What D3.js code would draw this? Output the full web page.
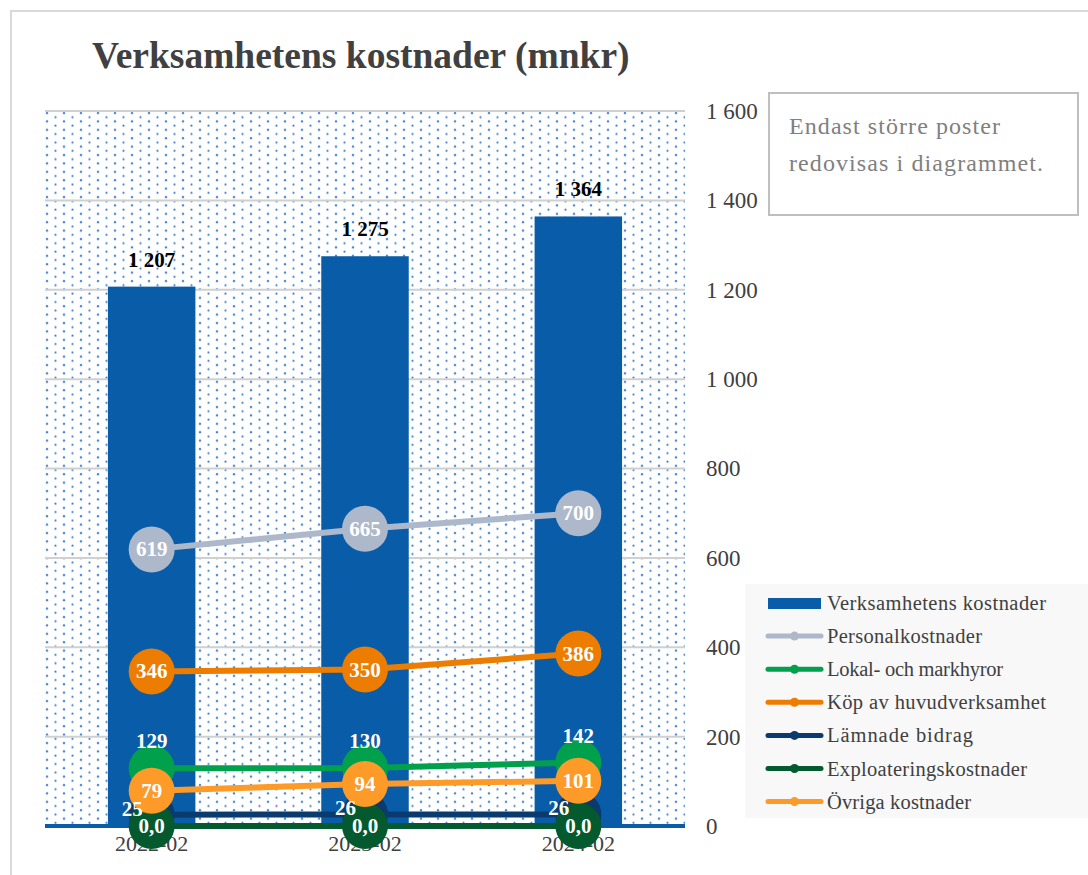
<!DOCTYPE html>
<html>
<head>
<meta charset="utf-8">
<script src="https://cdn.jsdelivr.net/npm/d3@7"></script>
<style>
body { margin: 0; background: #fff; }
svg { display: block; font-family: "Liberation Serif", "Times New Roman", serif; }
</style>
</head>
<body>
<div id="chart"></div>
<script>
// data
var categories = ["2022-02", "2023-02", "2024-02"];
var totalCosts = [1207, 1275, 1364];
var personal = [619, 665, 700];
var lokal = [129, 130, 142];
var kop = [346, 350, 386];
var bidrag = [25, 26, 26];
var exploatering = [0, 0, 0];
var ovriga = [79, 94, 101];
var yTicks = [0, 200, 400, 600, 800, 1000, 1200, 1400, 1600];

var lineSeries = [
	{name: "Personalkostnader", values: personal, colour: "#adb9ca", label: "center"},
	{name: "Lokal- och markhyror", values: lokal, colour: "#00a04c", label: "above"},
	{name: "Köp av huvudverksamhet", values: kop, colour: "#ed7d00", label: "center"},
	{name: "Lämnade bidrag", values: bidrag, colour: "#0b3a6e", label: "left"},
	{name: "Exploateringskostnader", values: exploatering, colour: "#045a2e", label: "center", fmt: "0,0"},
	{name: "Övriga kostnader", values: ovriga, colour: "#fd9a28", label: "center"}
];

var BAR_COLOUR = "#095ca8";
var fmt = function(v) { return d3.format(",")(v).replace(/,/g, " "); };

var svg = d3.select("#chart").append("svg")
	.attr("width", 1088)
	.attr("height", 875);

// outer frame
svg.append("rect")
	.attr("x", 11).attr("y", 11)
	.attr("width", 1100).attr("height", 900)
	.attr("fill", "#fff")
	.attr("stroke", "#d9d9d9")
	.attr("stroke-width", 2);

svg.append("text")
	.attr("x", 92).attr("y", 68)
	.attr("font-size", 37.5)
	.attr("font-weight", "bold")
	.attr("fill", "#404040")
	.text("Verksamhetens kostnader (mnkr)");

var plotLeft = 45, plotRight = 685, plotTop = 111, plotBottom = 826;

var x = d3.scaleBand()
	.domain(categories)
	.range([plotLeft, plotRight])
	.paddingInner(0.59)
	.paddingOuter(0.295);

var y = d3.scaleLinear()
	.domain([0, 1600])
	.range([plotBottom, plotTop]);

// dotted plot background (staggered dots)
var defs = svg.append("defs");
var pat = defs.append("pattern")
	.attr("id", "dots")
	.attr("patternUnits", "userSpaceOnUse")
	.attr("width", 17).attr("height", 8.4)
	.attr("x", plotLeft).attr("y", plotTop);
[[2, 2], [10.5, 6.2]].forEach(function(p, i) {
	pat.append("circle").attr("cx", p[0]).attr("cy", p[1]).attr("r", 1.6).attr("fill", "#cfe0f3");
	pat.append("circle").attr("cx", p[0]).attr("cy", p[1]).attr("r", i == 0 ? 1 : 0.85).attr("fill", "#3179c9");
});

svg.append("rect")
	.attr("x", plotLeft).attr("y", plotTop)
	.attr("width", plotRight - plotLeft).attr("height", plotBottom - plotTop)
	.attr("fill", "url(#dots)");

// gridlines
svg.append("g")
	.selectAll("line")
	.data(yTicks.slice(1))
	.enter().append("line")
	.attr("x1", plotLeft).attr("x2", plotRight)
	.attr("y1", function(d) { return y(d); })
	.attr("y2", function(d) { return y(d); })
	.attr("stroke", "#d0d0d0")
	.attr("stroke-width", 2);

// right axis
var yAxis = svg.append("g")
	.attr("transform", "translate(" + (plotRight + 21) + ",0)")
	.call(d3.axisRight(y).tickValues(yTicks).tickSize(0).tickPadding(0).tickFormat(fmt));
yAxis.select(".domain").remove();
yAxis.selectAll("text")
	.attr("font-family", "Liberation Serif, serif")
	.attr("font-size", 23)
	.attr("fill", "#404040");

// bars
svg.append("g")
	.selectAll("rect")
	.data(totalCosts)
	.enter().append("rect")
	.attr("x", function(d, i) { return x(categories[i]); })
	.attr("y", function(d) { return y(d); })
	.attr("width", x.bandwidth())
	.attr("height", function(d) { return y(0) - y(d); })
	.attr("fill", BAR_COLOUR);

svg.append("g")
	.selectAll("text")
	.data(totalCosts)
	.enter().append("text")
	.attr("x", function(d, i) { return x(categories[i]) + x.bandwidth() / 2; })
	.attr("y", function(d) { return y(d) - 20; })
	.attr("text-anchor", "middle")
	.attr("font-size", 21)
	.attr("font-weight", "bold")
	.attr("fill", "#000")
	.text(function(d) { return fmt(d); });

// baseline
svg.append("line")
	.attr("x1", plotLeft).attr("x2", plotRight)
	.attr("y1", y(0)).attr("y2", y(0))
	.attr("stroke", BAR_COLOUR)
	.attr("stroke-width", 4);

// x labels
var xAxis = svg.append("g")
	.attr("transform", "translate(0," + (y(0) + 9) + ")")
	.call(d3.axisBottom(x).tickSize(0).tickPadding(0));
xAxis.select(".domain").remove();
xAxis.selectAll("text")
	.attr("font-family", "Liberation Serif, serif")
	.attr("font-size", 22)
	.attr("fill", "#404040");

// lines + markers
var cx = function(i) { return x(categories[i]) + x.bandwidth() / 2; };
var line = d3.line()
	.x(function(d, i) { return cx(i); })
	.y(function(d) { return y(d); });

lineSeries.forEach(function(s) {
	var g = svg.append("g");
	g.append("path")
		.datum(s.values)
		.attr("d", line)
		.attr("fill", "none")
		.attr("stroke", s.colour)
		.attr("stroke-width", 6);
	g.selectAll("circle")
		.data(s.values)
		.enter().append("circle")
		.attr("cx", function(d, i) { return cx(i); })
		.attr("cy", function(d) { return y(d); })
		.attr("r", 23)
		.attr("fill", s.colour);
});

lineSeries.forEach(function(s) {
	svg.append("g")
		.selectAll("text")
		.data(s.values)
		.enter().append("text")
		.attr("x", function(d, i) { return s.label == "left" ? cx(i) - 9 : cx(i); })
		.attr("y", function(d) {
			if (s.label == "above") return y(d) - 20;
			if (s.label == "left") return y(d) + 1;
			return y(d) + 7;
		})
		.attr("text-anchor", s.label == "left" ? "end" : "middle")
		.attr("font-size", 21)
		.attr("font-weight", "bold")
		.attr("fill", "#fff")
		.text(function(d) { return s.fmt ? s.fmt : d; });
});

// note box
svg.append("rect")
	.attr("x", 769).attr("y", 93)
	.attr("width", 309).attr("height", 122)
	.attr("fill", "#fff")
	.attr("stroke", "#bfbfbf")
	.attr("stroke-width", 2);
svg.append("text")
	.attr("x", 789).attr("y", 134)
	.attr("font-size", 24)
	.attr("textLength", 211)
	.attr("fill", "#808080")
	.text("Endast större poster");
svg.append("text")
	.attr("x", 789).attr("y", 171)
	.attr("font-size", 24)
	.attr("textLength", 254)
	.attr("fill", "#808080")
	.text("redovisas i diagrammet.");

// legend
var lg = svg.append("g");
lg.append("rect")
	.attr("x", 745).attr("y", 584)
	.attr("width", 343).attr("height", 234)
	.attr("fill", "#f8f8f8");

var legendItems = [{name: "Verksamhetens kostnader", colour: BAR_COLOUR, bar: true}].concat(lineSeries);
var legendWidths = [219, 155, 176, 219, 146, 200, 144];
var item = lg.selectAll("g.item")
	.data(legendItems)
	.enter().append("g")
	.attr("class", "item")
	.attr("transform", function(d, i) { return "translate(0," + (603 + i * 33.1) + ")"; });

item.each(function(d, i) {
	var it = d3.select(this);
	if (d.bar) {
		it.append("rect")
			.attr("x", 768).attr("y", -5)
			.attr("width", 53).attr("height", 11)
			.attr("fill", d.colour);
	} else {
		it.append("line")
			.attr("x1", 768).attr("x2", 821)
			.attr("y1", 0).attr("y2", 0)
			.attr("stroke", d.colour)
			.attr("stroke-width", 5)
			.attr("stroke-linecap", "round");
		it.append("circle")
			.attr("cx", 794.5).attr("cy", 0)
			.attr("r", 4.5)
			.attr("fill", d.colour);
	}
	it.append("text")
		.attr("x", 827).attr("y", 7)
		.attr("font-size", 20.5)
		.attr("textLength", legendWidths[i])
		.attr("fill", "#404040")
		.text(d.name);
});
</script>
</body>
</html>
